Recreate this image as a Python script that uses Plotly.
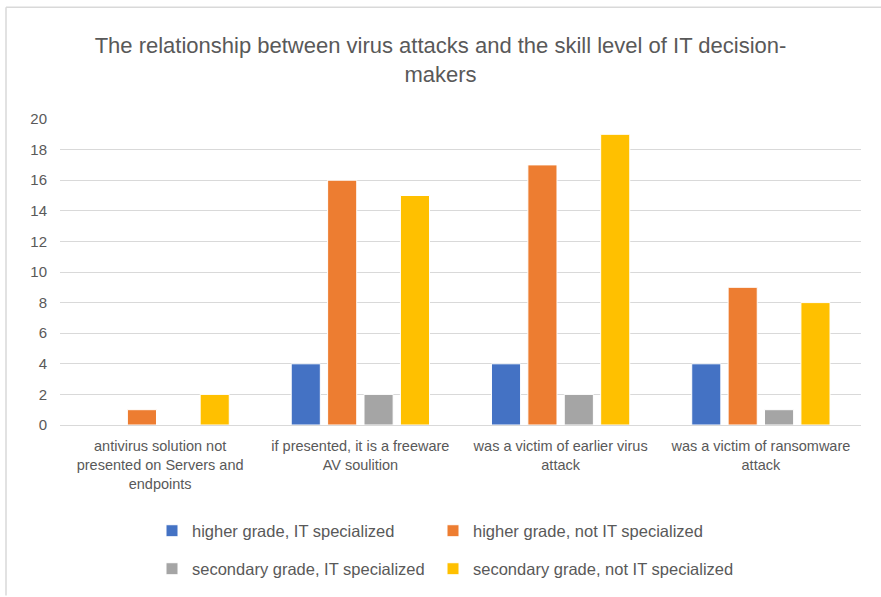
import plotly.graph_objects as go

categories = [
    "antivirus solution not<br>presented on Servers and<br>endpoints",
    "if presented, it is a freeware<br>AV soulition",
    "was a victim of earlier virus<br>attack",
    "was a victim of ransomware<br>attack",
]
series_names = [
    "higher grade, IT specialized",
    "higher grade, not IT specialized",
    "secondary grade, IT specialized",
    "secondary grade, not IT specialized",
]
higher_it = [0, 4, 4, 4]
higher_not_it = [1, 16, 17, 9]
secondary_it = [0, 2, 2, 1]
secondary_not_it = [2, 15, 19, 8]
values = [higher_it, higher_not_it, secondary_it, secondary_not_it]
colors = ["#4472C4", "#ED7D31", "#A5A5A5", "#FFC000"]
y_ticks = list(range(0, 21, 2))

W, H = 881, 597
L, R, T, B = 60, 20, 119, 171
pw, ph = W - L - R, H - T - B

def px_x(x):
    return (x - L) / pw

def px_y(y):
    return (H - B - y) / ph

FONT = "Liberation Sans"
legend_ids = ["legend", "legend2", "legend3", "legend4"]
legend_pos = [(152, 531), (433, 531), (152, 569), (433, 569)]

fig = go.Figure()
for name, vals, col, lg in zip(series_names, values, colors, legend_ids):
    fig.add_trace(go.Bar(
        x=categories, y=vals, name=name, legend=lg, showlegend=True,
        marker=dict(color=col, line=dict(color="white", width=1)),
        hoverinfo="y+name",
    ))

legend_layout = {}
for lg, (lx, ly) in zip(legend_ids, legend_pos):
    legend_layout[lg] = dict(
        orientation="h", xanchor="left", yanchor="middle",
        x=px_x(lx), y=px_y(ly), visible=True,
        font=dict(family=FONT, size=16.5, color="#595959"),
        bgcolor="rgba(0,0,0,0)", itemwidth=30,
    )

fig.update_layout(
    width=W, height=H,
    margin=dict(l=L, r=R, t=T, b=B),
    paper_bgcolor="white", plot_bgcolor="white",
    showlegend=True,
    barmode="group", bargap=0.273, bargroupgap=0.2,
    title=dict(
        text="The relationship between virus attacks and the skill level of IT decision-<br>makers",
        x=0.5, xref="container", xanchor="center",
        y=1 - 53 / H, yref="container", yanchor="middle",
        font=dict(family=FONT, size=22, color="#595959"),
    ),
    font=dict(family=FONT, color="#595959"),
    xaxis=dict(
        showgrid=False, showline=True, linecolor="#D9D9D9", linewidth=1,
        tickfont=dict(family=FONT, size=14.5, color="#595959"),
        ticks="", automargin=False, ticklabelstandoff=8,
    ),
    yaxis=dict(
        range=[0, 20], tickvals=y_ticks, showgrid=True, gridcolor="#D9D9D9",
        gridwidth=1, zeroline=False, showline=False, ticks="",
        tickfont=dict(family=FONT, size=15, color="#595959"),
        automargin=False, ticklabelstandoff=12,
    ),
    shapes=[
        dict(type="line", xref="paper", yref="paper",
             x0=px_x(6), x1=px_x(881), y0=px_y(7), y1=px_y(7),
             line=dict(color="#D9D9D9", width=1.5)),
        dict(type="line", xref="paper", yref="paper",
             x0=px_x(6), x1=px_x(6), y0=px_y(7), y1=px_y(597),
             line=dict(color="#D9D9D9", width=1.5)),
    ],
    **legend_layout,
)

fig.write_html("out.html")
